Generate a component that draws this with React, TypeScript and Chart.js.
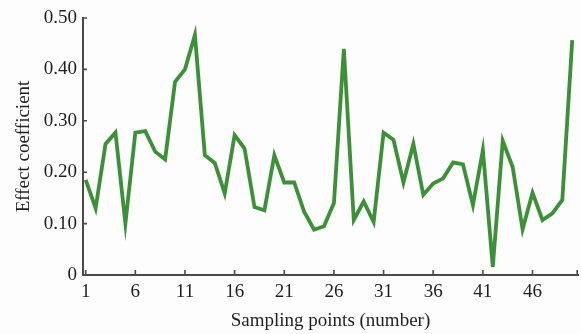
import React, { useEffect, useRef } from "react";
import { Chart, registerables } from "chart.js";

Chart.register(...registerables);

// Sampling point numbers (x) and their effect coefficients (y)
const samplingPoints = [
  1, 2, 3, 4, 5, 6, 7, 8, 9, 10,
  11, 12, 13, 14, 15, 16, 17, 18, 19, 20,
  21, 22, 23, 24, 25, 26, 27, 28, 29, 30,
  31, 32, 33, 34, 35, 36, 37, 38, 39, 40,
  41, 42, 43, 44, 45, 46, 47, 48, 49, 50,
];
const effectCoefficient = [
  0.185, 0.13, 0.255, 0.277, 0.1, 0.277, 0.28, 0.24, 0.225, 0.376,
  0.4, 0.467, 0.233, 0.218, 0.159, 0.272, 0.246, 0.132, 0.126, 0.233,
  0.18, 0.18, 0.123, 0.088, 0.095, 0.14, 0.44, 0.107, 0.143, 0.103,
  0.277, 0.263, 0.18, 0.255, 0.156, 0.178, 0.188, 0.219, 0.215, 0.136,
  0.243, 0.016, 0.261, 0.21, 0.089, 0.16, 0.107, 0.12, 0.146, 0.457,
];
const xTickValues = [1, 6, 11, 16, 21, 26, 31, 36, 41, 46];
const yTickValues = [0, 0.1, 0.2, 0.3, 0.4, 0.5];

const FONT = "'Liberation Serif', 'Times New Roman', serif";
const FONT_SIZE = 19;
const AXIS_COLOR = "#4a4a4a";
const TEXT_COLOR = "#1e1e1e";

// Short inward tick marks on both axes, plus a closing tick at the x-axis end
const inwardTicks = {
  id: "inwardTicks",
  afterDatasetsDraw(chart: any) {
    const { ctx, chartArea, scales } = chart;
    const x = scales.x;
    const y = scales.y;
    ctx.save();
    ctx.strokeStyle = AXIS_COLOR;
    ctx.lineWidth = 1.6;
    ctx.beginPath();
    for (const v of xTickValues) {
      const px = x.getPixelForValue(v);
      ctx.moveTo(px, chartArea.bottom);
      ctx.lineTo(px, chartArea.bottom - 5);
    }
    ctx.moveTo(chartArea.right - 0.8, chartArea.bottom);
    ctx.lineTo(chartArea.right - 0.8, chartArea.bottom - 5);
    for (const v of yTickValues) {
      const py = y.getPixelForValue(v);
      ctx.moveTo(chartArea.left, py);
      ctx.lineTo(chartArea.left + 4, py);
    }
    ctx.stroke();
    ctx.restore();
  },
};

export default function App() {
  const canvasRef = useRef<HTMLCanvasElement | null>(null);

  useEffect(() => {
    const canvas = canvasRef.current;
    if (!canvas) return;
    const chart = new Chart(canvas, {
      type: "line",
      data: {
        datasets: [
          {
            data: samplingPoints.map((p, i) => ({ x: p, y: effectCoefficient[i] })),
            borderColor: "#3b9236",
            borderWidth: 3.8,
            pointRadius: 0,
            tension: 0,
            fill: false,
          },
        ],
      },
      options: {
        animation: false,
        responsive: true,
        maintainAspectRatio: false,
        layout: { padding: { top: 18, right: 3, left: 0, bottom: 0 } },
        plugins: { legend: { display: false }, tooltip: { enabled: false } },
        scales: {
          x: {
            type: "linear",
            min: 0.73,
            max: 50.58,
            grid: { display: false, drawTicks: false },
            border: { display: true, color: AXIS_COLOR, width: 2 },
            afterBuildTicks: (scale: any) => {
              scale.ticks = xTickValues.map((v) => ({ value: v }));
            },
            afterFit: (scale: any) => {
              scale.height = 59;
            },
            ticks: {
              autoSkip: false,
              maxRotation: 0,
              padding: 6,
              color: TEXT_COLOR,
              font: { family: FONT, size: FONT_SIZE },
              callback: (v: any) => String(v),
            },
            title: {
              display: true,
              text: "Sampling points (number)",
              color: TEXT_COLOR,
              font: { family: FONT, size: FONT_SIZE },
              padding: { top: 0, bottom: 2 },
            },
          },
          y: {
            min: 0,
            max: 0.5,
            grid: { display: false, drawTicks: false },
            border: { display: true, color: AXIS_COLOR, width: 2 },
            afterBuildTicks: (scale: any) => {
              scale.ticks = yTickValues.map((v) => ({ value: v }));
            },
            afterFit: (scale: any) => {
              scale.width = 83;
            },
            ticks: {
              padding: 6,
              color: TEXT_COLOR,
              font: { family: FONT, size: FONT_SIZE },
              callback: (v: any) => (Number(v) === 0 ? "0" : Number(v).toFixed(2)),
            },
            title: {
              display: true,
              text: "Effect coefficient",
              color: TEXT_COLOR,
              font: { family: FONT, size: FONT_SIZE },
              padding: { top: 13, bottom: 0 },
            },
          },
        },
      },
      plugins: [inwardTicks],
    });
    return () => chart.destroy();
  }, []);

  return (
    <div style={{ position: "fixed", left: 0, top: 0, width: 581, height: 334, background: "#fdfdfd" }}>
      <canvas ref={canvasRef} />
    </div>
  );
}
